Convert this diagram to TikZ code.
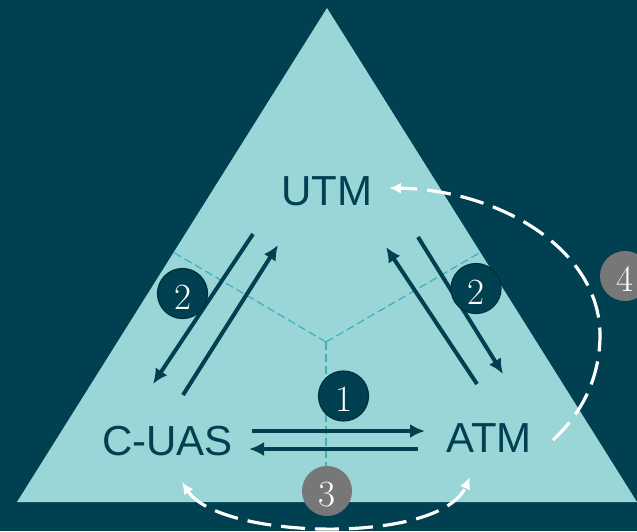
\documentclass[tikz,border=0pt]{standalone}
\usepackage{fontspec}
\newfontfamily\labfont{Liberation Sans}
\usetikzlibrary{arrows.meta}
\definecolor{bgdark}{HTML}{004050}
\definecolor{trilight}{HTML}{9AD5D8}
\definecolor{divcol}{HTML}{3AB3B6}
\definecolor{circgrey}{HTML}{777777}
\definecolor{circedge}{HTML}{00303B}
\begin{document}
\begin{tikzpicture}[x=1pt,y=-1pt,
  lab/.style={font=\labfont\fontsize{42}{42}\selectfont, text=bgdark, inner sep=0pt, anchor=base},
  flow/.style={line width=4pt, draw=bgdark, -{Latex[length=15pt,width=14pt]}},
  divider/.style={draw=divcol, line width=1.2pt, dash pattern=on 8pt off 4pt},
  wdash/.style={draw=white, line width=3.2pt, dash pattern=on 24pt off 10pt},
  wtip/.style={-{Latex[length=12pt,width=11pt]}},
  numbase/.style={circle, minimum size=50pt, inner sep=0pt, text=white, text height=31pt, text depth=0pt, font=\fontsize{37}{37}\selectfont},
  numdark/.style={numbase, fill=bgdark, draw=circedge, line width=1.2pt},
  numgrey/.style={numbase, fill=circgrey}]
\useasboundingbox (0,0) rectangle (637,531);
\clip (0,0) rectangle (637,531);
\fill[bgdark] (0,0) rectangle (637,531);
% triangle
\coordinate (apex) at (327,8);
\coordinate (bl) at (17,502);
\coordinate (br) at (637,502);
\fill[trilight] (apex) -- (bl) -- (br) -- cycle;
% dividers
\coordinate (ctr) at (326,342);
\coordinate (dl) at (173,252);
\coordinate (dr) at (481,252);
\coordinate (db) at (326,502);
\draw[divider] (ctr) -- (dl);
\draw[divider] (ctr) -- (dr);
\draw[divider] (ctr) -- (db);
% labels
\node[lab] (utm) at (326.5,205) {UTM};
\node[lab] (cuas) at (167.5,455) {C-UAS};
\node[lab] (atm) at (489,452) {ATM};
% arrow end points
\coordinate (c1) at (253,234); \coordinate (c2) at (153,384);
\coordinate (d1) at (183,395); \coordinate (d2) at (278,245);
\coordinate (a1) at (477,384); \coordinate (a2) at (386,247);
\coordinate (b1) at (418,237); \coordinate (b2) at (503,374);
\coordinate (e1) at (252,431); \coordinate (e2) at (425,431);
\coordinate (f1) at (418,449); \coordinate (f2) at (249,449);
\draw[flow] (c1) -- (c2);
\draw[flow] (d1) -- (d2);
\draw[flow] (a1) -- (a2);
\draw[flow] (b1) -- (b2);
\draw[flow] (e1) -- (e2);
\draw[flow] (f1) -- (f2);
% white dashed curves
\coordinate (g1) at (182,482); \coordinate (g2) at (470,477);
\draw[wdash, {Latex[length=12pt,width=11pt]}-{Latex[length=12pt,width=11pt]}]
  (g1) .. controls (220,540) and (440,545) .. (g2);
\coordinate (h1) at (553,440); \coordinate (hm) at (600,335); \coordinate (h2) at (389,188);
\draw[wdash, wtip] (h1) .. controls (580,415) and (600,380) .. (hm)
  .. controls (600,250) and (500,190) .. (h2);
% numbered circles
\node[numdark] (n2l) at (182.5,293.5) {2};
\node[numdark] (n2r) at (476,288.5) {2};
\node[numdark] (n1) at (343.5,396) {1};
\node[numgrey] (n3) at (327,491) {3};
\node[numgrey] (n4) at (625,276) {4};
\end{tikzpicture}
\end{document}
